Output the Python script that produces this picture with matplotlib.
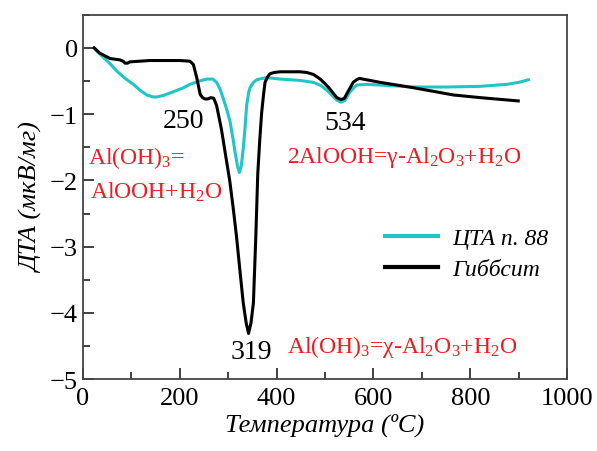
import matplotlib
matplotlib.use('Agg')
import matplotlib.pyplot as plt
from matplotlib.ticker import MultipleLocator

# ---------- DATA ----------
t_cta = [23, 30, 42, 56, 70, 87, 104, 118, 132, 145, 152, 165, 187, 205, 221, 240, 256, 268,
         276, 283, 290, 297, 304, 310, 314, 319, 323, 327, 331, 335, 338, 342, 345, 352, 359,
         370, 380, 395, 407, 448, 476, 492, 504, 515, 525, 533, 541, 552, 565, 586, 640,
         682, 751, 820, 875, 900, 920]
dta_cta = [0.0, -0.06, -0.14, -0.24, -0.35, -0.46, -0.55, -0.64, -0.71, -0.74, -0.74, -0.72,
           -0.66, -0.61, -0.55, -0.5, -0.47, -0.47, -0.52, -0.62, -0.77, -0.93, -1.12, -1.38,
           -1.57, -1.78, -1.88, -1.78, -1.52, -1.18, -0.87, -0.68, -0.6, -0.52, -0.48, -0.46,
           -0.45, -0.46, -0.47, -0.49, -0.52, -0.57, -0.64, -0.72, -0.79, -0.82, -0.79, -0.66,
           -0.56, -0.55, -0.57, -0.59, -0.59, -0.58, -0.55, -0.52, -0.48]

t_gib = [23, 35, 56, 76, 83, 87, 92, 97, 138, 200, 221, 228, 235, 242, 247, 252, 258, 264,
         270, 276, 286, 297, 303, 310, 317, 324, 331, 337, 342, 347, 352, 357, 361, 365,
         369, 373, 376, 381, 386, 395, 407, 448, 462, 476, 490, 500, 510, 524, 533, 540,
         545, 552, 558, 565, 571, 614, 682, 765, 820, 899]
dta_gib = [0.0, -0.08, -0.16, -0.18, -0.2, -0.23, -0.23, -0.21, -0.19, -0.19, -0.2, -0.25,
           -0.45, -0.7, -0.75, -0.77, -0.77, -0.75, -0.76, -0.87, -1.23, -1.73, -2.0, -2.4,
           -2.84, -3.35, -3.85, -4.15, -4.31, -4.15, -3.85, -2.84, -1.9, -1.4, -0.98, -0.7,
           -0.52, -0.44, -0.39, -0.37, -0.36, -0.36, -0.37, -0.4, -0.47, -0.54, -0.62, -0.75,
           -0.78, -0.76, -0.69, -0.6, -0.52, -0.48, -0.46, -0.52, -0.6, -0.71, -0.75, -0.8]

series_labels = ['ЦТА п. 88', 'Гиббсит']
peak_labels = ['250', '534', '319']
peak_pos = [(207, -1.1), (541, -1.12), (347, -4.59)]
reactions = [r'Al(OH)$_3$=', r'AlOOH+H$_2$O',
             r'2AlOOH=$\gamma$-Al$_2$O$_3$+H$_2$O',
             r'Al(OH)$_3$=$\chi$-Al$_2$O$_3$+H$_2$O']
reaction_pos = [(10, -1.65), (14, -2.17), (421, -1.64), (421, -4.5)]

# ---------- STYLE ----------
plt.rcParams['font.family'] = ['Liberation Serif', 'DejaVu Serif']
plt.rcParams['mathtext.fontset'] = 'custom'
plt.rcParams['mathtext.rm'] = 'Liberation Serif'
plt.rcParams['mathtext.it'] = 'Liberation Serif:italic'
plt.rcParams['mathtext.default'] = 'regular'

red = '#ed1c24'
cyan = '#22c5c5'

fig = plt.figure(figsize=(5.97, 4.52), dpi=100)
ax = fig.add_axes([0.139, 0.159, 0.811, 0.806])

ax.plot(t_cta, dta_cta, color=cyan, lw=2.2, label=series_labels[0])
ax.plot(t_gib, dta_gib, color='black', lw=2.2, label=series_labels[1])

ax.set_xlim(0, 1000)
ax.set_ylim(-5, 0.5)
ax.xaxis.set_major_locator(MultipleLocator(200))
ax.xaxis.set_minor_locator(MultipleLocator(100))
ax.yaxis.set_major_locator(MultipleLocator(1))
ax.yaxis.set_minor_locator(MultipleLocator(0.5))
ax.tick_params(which='both', direction='in', labelsize=19, color='#333333')
ax.tick_params(which='major', length=8, width=1.3)
ax.tick_params(which='minor', length=5, width=1.3)
ax.tick_params(axis='x', pad=6)
for s in ax.spines.values():
    s.set_linewidth(1.3)
    s.set_color('#444444')

ax.set_xlabel('Температура (ºC)', fontsize=19, style='italic', labelpad=2)
ax.set_ylabel('ДТА (мкВ/мг)', fontsize=19, style='italic', labelpad=4)

for lab, (x, y) in zip(peak_labels, peak_pos):
    ax.text(x, y, lab, fontsize=20, ha='center', va='center', color='black')
for lab, (x, y) in zip(reactions, reaction_pos):
    ax.text(x, y, lab, fontsize=17, ha='left', va='center', color=red)

leg = ax.legend(loc='upper left', bbox_to_anchor=(0.579, 0.475), frameon=False,
                prop={'size': 17, 'style': 'italic'}, handlelength=2.25,
                handletextpad=0.6, labelspacing=0.42)
for h in leg.get_lines():
    h.set_linewidth(3)

plt.savefig('out.png', dpi=100)
